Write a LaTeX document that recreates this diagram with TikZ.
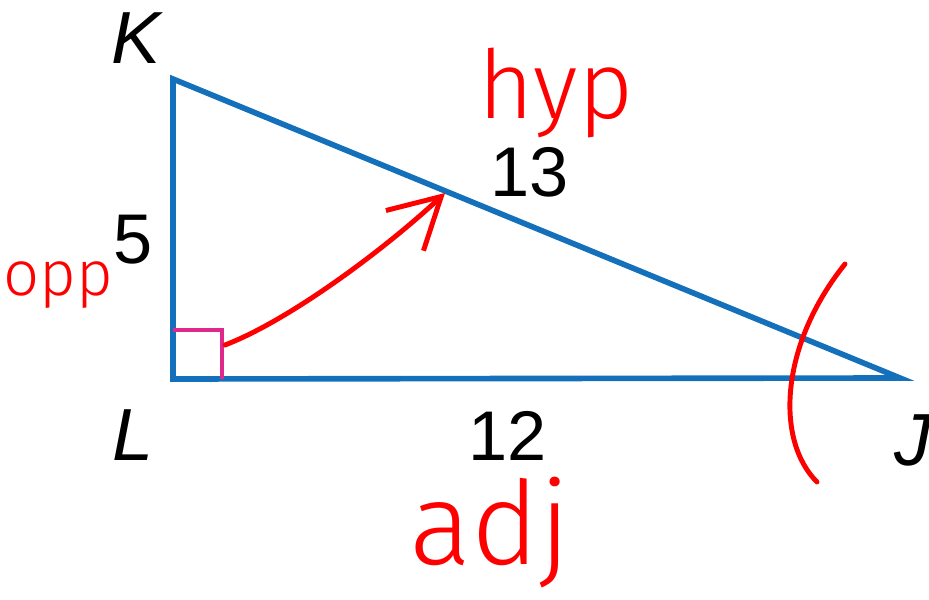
\documentclass[tikz,border=0pt]{standalone}
\usepackage{fontspec}
\setmainfont{Liberation Sans}
\newfontfamily\amano{Fira Sans}[UprightFont=* Light]
\usepackage{xcolor}
\usepackage{tikz}
\usetikzlibrary{arrows.meta, calc}

\definecolor{ladoazul}{RGB}{20,112,186}
\definecolor{angrecto}{RGB}{222,40,140}

\begin{document}
\begin{tikzpicture}[
        x=0.01cm, y=-0.01cm,
        % Estilo para los lados del triángulo
        lado/.style={draw=ladoazul, line width=1.6pt, line join=miter},
        % Estilo para el ángulo recto
        recto/.style={draw=angrecto, line width=0.9pt},
        % Estilo para vértices y medidas
        vertice/.style={font=\fontsize{21}{24}\selectfont\itshape, inner sep=0pt},
        medida/.style={font=\fontsize{20}{24}\selectfont, inner sep=0pt},
        % Estilo para las notas a mano (rojo)
        nota/.style={text=red, font=\amano\fontsize{27}{32}\selectfont, inner sep=0pt},
        trazo/.style={draw=red, line width=1.4pt, line cap=round}
    ]
        \useasboundingbox (0,0) rectangle (929,600);

        % 1. Vértices del triángulo
        \coordinate (K) at (173,79);
        \coordinate (L) at (173,379);
        \coordinate (J) at (900,378);

        \draw[lado] (K) -- (L) -- (J) -- cycle;

        % Ángulo recto en L
        \draw[recto] ($(L)+(0,-49)$) -- ++(49,0) -- ++(0,49);

        % 2. Etiquetas de vértices
        \node[vertice] (lblK) at (136,38) {K};
        \node[vertice] (lblL) at (133,435) {L};
        \node[vertice] (lblJ) at (913,440) {J};

        % 3. Medidas de los lados
        \node[medida] (cinco) at (133,240) {5};
        \node[medida] (trece) at (530,172) {13};
        \node[medida] (doce) at (508,436) {12};

        % 4. Notas a mano
        \node[nota, anchor=base] (hyp) at (556,118) {hyp};
        \node[nota, anchor=base east, font=\amano\fontsize{18}{22}\selectfont] (opp) at (114,296) {opp};
        \node[nota, font=\amano\fontsize{33}{38}\selectfont] (adj) at (490,533) {adj};

        % Flecha del ángulo recto a la hipotenusa
        \coordinate (ini) at (225,345);
        \coordinate (fin) at (445,193);
        \draw[trazo, -{Straight Barb[length=5mm, width=5.5mm, line width=1.4pt]}]
            (ini) .. controls (290,320) and (385,249) .. (fin);

        % Arco del ángulo en J
        \coordinate (arcoA) at (845,264);
        \coordinate (arcoB) at (817,482);
        \draw[trazo] (arcoA) .. controls (780,345) and (775,440) .. (arcoB);

\end{tikzpicture}
\end{document}
